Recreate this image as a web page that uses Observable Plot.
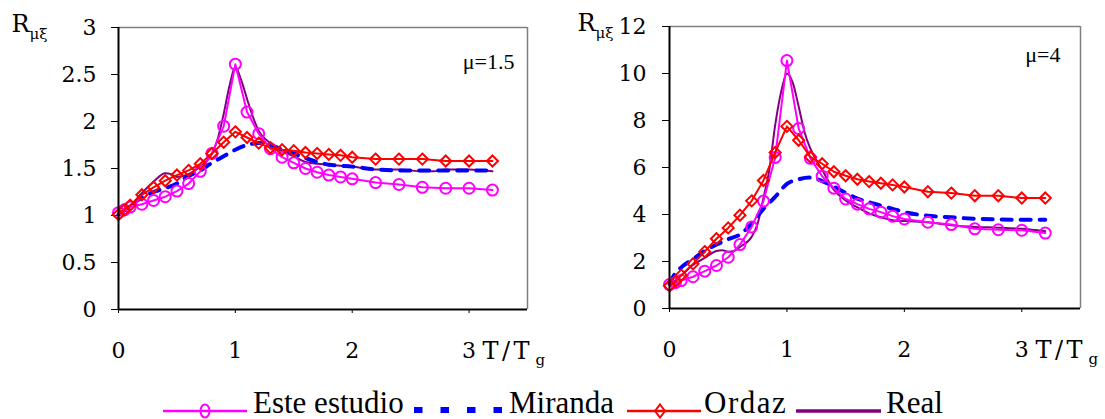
<!DOCTYPE html>
<html><head><meta charset="utf-8">
<script src="https://cdn.jsdelivr.net/npm/d3@7"></script>
<script src="https://cdn.jsdelivr.net/npm/@observablehq/plot@0.6"></script>
<style>
body{margin:0;background:#fff;}
#wrap{position:relative;width:1105px;height:419px;overflow:hidden;background:#fff;}
#left{position:absolute;left:0;top:0;}
#right{position:absolute;left:560px;top:0;}
#legend{position:absolute;left:0;top:365px;}
</style></head><body>
<div id="wrap"><div id="left"></div><div id="right"></div><svg id="legend" width="1105" height="54"></svg></div>
<script>
// ---- data ----
const seriesNames = ["Este estudio", "Miranda", "Ordaz", "Real"];
const panelLabels = ["μ=1.5", "μ=4"];
const xTicks = [0, 1, 2, 3];
const yTicks15 = [0, 0.5, 1, 1.5, 2, 2.5, 3];
const yTicks4 = [0, 2, 4, 6, 8, 10, 12];

const xPts = [0, 0.05, 0.1, 0.2, 0.3, 0.4, 0.5, 0.6, 0.7, 0.8, 0.9, 1.0, 1.1, 1.2, 1.3, 1.4, 1.5, 1.6, 1.7, 1.8, 1.9, 2.0, 2.2, 2.4, 2.6, 2.8, 3.0, 3.2];
const este15 = [1.03, 1.06, 1.09, 1.12, 1.16, 1.20, 1.26, 1.34, 1.47, 1.66, 1.95, 2.61, 2.10, 1.87, 1.71, 1.62, 1.56, 1.50, 1.46, 1.43, 1.41, 1.39, 1.35, 1.33, 1.30, 1.29, 1.29, 1.27];
const ordaz15 = [1.01, 1.06, 1.11, 1.22, 1.30, 1.37, 1.43, 1.48, 1.55, 1.66, 1.78, 1.89, 1.83, 1.77, 1.72, 1.70, 1.69, 1.67, 1.66, 1.65, 1.64, 1.62, 1.60, 1.60, 1.60, 1.58, 1.58, 1.58];
const este4 = [1.02, 1.10, 1.19, 1.35, 1.59, 1.83, 2.18, 2.72, 3.47, 4.57, 6.43, 10.55, 7.66, 6.39, 5.63, 5.12, 4.66, 4.44, 4.24, 4.10, 3.93, 3.81, 3.67, 3.57, 3.39, 3.35, 3.33, 3.21];
const ordaz4 = [0.97, 1.15, 1.42, 1.90, 2.42, 2.97, 3.43, 3.97, 4.58, 5.45, 6.64, 7.75, 7.16, 6.45, 6.16, 5.82, 5.65, 5.50, 5.40, 5.33, 5.26, 5.17, 4.97, 4.91, 4.80, 4.80, 4.70, 4.70];

const xMir15 = [0, 0.1, 0.2, 0.3, 0.4, 0.5, 0.6, 0.7, 0.8, 0.9, 1.0, 1.1, 1.2, 1.3, 1.4, 1.5, 1.6, 1.7, 1.8, 1.9, 2.0, 2.2, 2.4, 2.6, 2.8, 3.0, 3.2];
const mir15 = [1.01, 1.10, 1.19, 1.25, 1.29, 1.34, 1.42, 1.48, 1.56, 1.63, 1.70, 1.75, 1.77, 1.75, 1.70, 1.66, 1.61, 1.57, 1.54, 1.53, 1.52, 1.49, 1.48, 1.48, 1.48, 1.48, 1.48];
const xMir4 = [0, 0.05, 0.1, 0.2, 0.3, 0.4, 0.5, 0.6, 0.7, 0.8, 0.9, 1.0, 1.1, 1.2, 1.3, 1.4, 1.5, 1.6, 1.7, 1.8, 1.9, 2.0, 2.2, 2.4, 2.6, 2.8, 3.0, 3.2];
const mir4 = [1.05, 1.50, 1.75, 2.10, 2.45, 2.72, 2.95, 3.15, 3.62, 4.24, 4.75, 5.30, 5.50, 5.57, 5.42, 5.18, 4.92, 4.68, 4.52, 4.38, 4.24, 4.10, 3.95, 3.88, 3.82, 3.79, 3.78, 3.78];

const xReal15 = [0, 0.1, 0.2, 0.3, 0.4, 0.45, 0.5, 0.6, 0.7, 0.8, 0.85, 0.9, 0.95, 1.0, 1.05, 1.1, 1.15, 1.2, 1.3, 1.4, 1.5, 1.6, 1.7, 1.8, 1.9, 2.0, 2.2, 2.4, 2.6, 2.7, 2.8, 3.0, 3.2];
const real15 = [1.0, 1.10, 1.24, 1.36, 1.45, 1.44, 1.41, 1.44, 1.52, 1.66, 1.82, 2.08, 2.38, 2.58, 2.44, 2.24, 2.05, 1.90, 1.77, 1.69, 1.63, 1.57, 1.55, 1.54, 1.53, 1.52, 1.49, 1.49, 1.47, 1.47, 1.49, 1.49, 1.47];
const xReal4 = [0, 0.1, 0.2, 0.3, 0.4, 0.45, 0.5, 0.55, 0.6, 0.7, 0.75, 0.8, 0.85, 0.9, 0.95, 1.0, 1.05, 1.1, 1.15, 1.2, 1.3, 1.4, 1.5, 1.6, 1.7, 1.8, 1.9, 2.0, 2.2, 2.4, 2.6, 2.8, 3.0, 3.2];
const real4 = [1.0, 1.40, 1.85, 2.15, 2.45, 2.48, 2.42, 2.45, 2.62, 3.05, 3.60, 4.70, 5.90, 7.80, 9.20, 10.0, 9.60, 8.60, 7.50, 6.80, 5.90, 5.05, 4.60, 4.30, 4.05, 3.88, 3.76, 3.72, 3.67, 3.54, 3.47, 3.44, 3.39, 3.29];

const colors = {este: "#FF00FF", mir: "#0000FF", ordaz: "#FF0000", real: "#800080"};
const serif = "DejaVu Serif";

const rows = (xs, ys) => xs.map((x, i) => ({x, y: ys[i]}));

function panel(o) {
  const p = Plot.plot({
    width: o.width, height: 365,
    marginLeft: o.mL, marginRight: o.mR, marginTop: o.mT, marginBottom: 365 - o.bottom,
    style: {background: "#fff", overflow: "visible", color: "#000"},
    x: {domain: [0, 3.5]},
    y: {domain: [0, o.yMax]},
    marks: [
      Plot.axisX({ticks: xTicks, tickSize: 4, tickPadding: 29, label: null, tickFormat: d => `${d}`, fontFamily: serif, fontSize: 22}),
      Plot.axisY({ticks: o.yTicks, tickSize: 7, tickPadding: o.tp, label: null, tickFormat: d => `${d}`, fontFamily: serif, fontSize: 22}),
      Plot.ruleX([3.5], {stroke: "#808080", strokeWidth: 1.5}),
      Plot.ruleY([o.yMax], {stroke: "#808080", strokeWidth: 1.5}),
      Plot.line(rows(o.xReal, o.real), {x: "x", y: "y", stroke: colors.real, strokeWidth: 2, curve: "monotone-x"}),
      Plot.line(rows(o.xMir, o.mir), {x: "x", y: "y", stroke: colors.mir, strokeWidth: 4, strokeDasharray: "10,9", curve: "monotone-x"}),
      Plot.line(rows(xPts, o.este), {x: "x", y: "y", stroke: colors.este, strokeWidth: 2}),
      Plot.dot(rows(xPts, o.este), {x: "x", y: "y", r: 5.5, stroke: colors.este, strokeWidth: 2, fill: "none"}),
      Plot.line(rows(xPts, o.ordaz), {x: "x", y: "y", stroke: colors.ordaz, strokeWidth: 2}),
      Plot.dot(rows(xPts, o.ordaz), {x: "x", y: "y", symbol: "diamond2", r: 5, stroke: colors.ordaz, strokeWidth: 2, fill: "none"}),
      Plot.ruleX([0], {stroke: "#000", strokeWidth: 2}),
      Plot.ruleY([0], {stroke: "#000", strokeWidth: 2}),
      Plot.text([o.label], {frameAnchor: "top-right", dx: o.ldx, dy: o.ldy, textAnchor: "end", lineAnchor: "middle", fontFamily: "Liberation Serif", fontSize: 22}),
      Plot.text(["R"], {frameAnchor: "top-left", dx: o.rdx, dy: -3, textAnchor: "start", lineAnchor: "middle", fontFamily: serif, fontSize: 24}),
      Plot.text(["μξ"], {frameAnchor: "top-left", dx: o.rdx + 18, dy: 7, textAnchor: "start", lineAnchor: "middle", fontFamily: serif, fontSize: 15}),
      Plot.text(["T/T"], {frameAnchor: "bottom-right", dx: -45, dy: 42, textAnchor: "start", lineAnchor: "middle", fontFamily: serif, fontSize: 24}),
      Plot.text(["g"], {frameAnchor: "bottom-right", dx: 8, dy: 51, textAnchor: "start", lineAnchor: "middle", fontFamily: serif, fontSize: 15})
    ]
  });
  const s = d3.select(p);
  s.selectAll("text").filter(function() { return this.textContent === "T/T"; }).attr("letter-spacing", 3.5);
  s.selectAll('g[aria-label$="tick label"] text').style("font-family", `'${serif}', serif`).style("font-size", "22px");
  return p;
}

document.getElementById("left").append(panel({
  width: 560, mL: 118, mR: 33, mT: 27, bottom: 309, yMax: 3, yTicks: yTicks15, tp: 15,
  este: este15, ordaz: ordaz15, xMir: xMir15, mir: mir15, xReal: xReal15, real: real15,
  label: panelLabels[0], ldx: -13, ldy: 34, rdx: -107
}));
document.getElementById("right").append(panel({
  width: 545, mL: 109, mR: 25, mT: 26, bottom: 308, yMax: 12, yTicks: yTicks4, tp: 16,
  este: este4, ordaz: ordaz4, xMir: xMir4, mir: mir4, xReal: xReal4, real: real4,
  label: panelLabels[1], ldx: -20, ldy: 28, rdx: -92
}));

// ---- legend ----
const lg = d3.select("#legend");
const ly = 46, tb = 48;
const font = "Liberation Serif";
// Este estudio
lg.append("line").attr("x1", 163).attr("x2", 247).attr("y1", ly).attr("y2", ly).attr("stroke", colors.este).attr("stroke-width", 2.5);
lg.append("ellipse").attr("cx", 205).attr("cy", ly).attr("rx", 4.5).attr("ry", 6.5).attr("fill", "none").attr("stroke", colors.este).attr("stroke-width", 2);
lg.append("text").attr("x", 253).attr("y", tb).attr("font-family", font).attr("font-size", 31).text(seriesNames[0]);
// Miranda
lg.append("line").attr("x1", 414).attr("x2", 505).attr("y1", ly - 1).attr("y2", ly - 1).attr("stroke", colors.mir).attr("stroke-width", 6).attr("stroke-dasharray", "8.5,18");
lg.append("text").attr("x", 509).attr("y", tb).attr("font-family", font).attr("font-size", 31).text(seriesNames[1]);
// Ordaz
lg.append("line").attr("x1", 627).attr("x2", 701).attr("y1", ly).attr("y2", ly).attr("stroke", colors.ordaz).attr("stroke-width", 2.5);
lg.append("path").attr("d", `M660,${ly - 6.5}L665,${ly}L660,${ly + 6.5}L655,${ly}Z`).attr("fill", "none").attr("stroke", colors.ordaz).attr("stroke-width", 2);
lg.append("text").attr("x", 704).attr("y", tb).attr("font-family", font).attr("font-size", 31).attr("letter-spacing", 1.5).text(seriesNames[2]);
// Real
lg.append("line").attr("x1", 796).attr("x2", 881).attr("y1", ly).attr("y2", ly).attr("stroke", colors.real).attr("stroke-width", 3.5);
lg.append("text").attr("x", 886).attr("y", tb).attr("font-family", font).attr("font-size", 31).text(seriesNames[3]);
</script>
</body></html>
